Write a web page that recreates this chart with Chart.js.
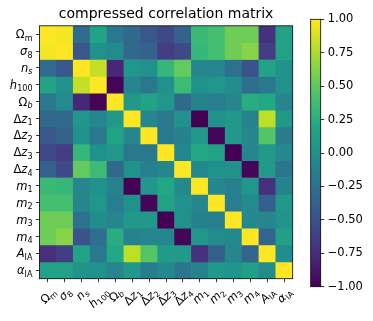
<!DOCTYPE html>
<html>
<head>
<meta charset="utf-8">
<script src="https://cdn.jsdelivr.net/npm/chart.js@4.4.1/dist/chart.umd.min.js"></script>
<style>
    html, body { margin: 0; padding: 0; background: #fff; }
    #wrap { position: relative; width: 373px; height: 321px; }
    #wrap canvas { position: absolute; left: 0; top: 0; }
</style>
</head>
<body>
<div id="wrap">
    <canvas id="matrixChart" width="373" height="321"></canvas>
    <canvas id="cbarChart" width="373" height="321"></canvas>
</div>
<script>
// parameter names, "_" starts a subscript
const paramNames = ['Ω_m', 'σ_8', 'n_s', 'h_100', 'Ω_b', 'Δz_1', 'Δz_2', 'Δz_3', 'Δz_4', 'm_1', 'm_2', 'm_3', 'm_4', 'A_IA', 'α_IA'];
const romanSubs = ['m', 'IA'];

// correlation matrix, one row per parameter
const rowOmegaM = [1, 0.97, -0.3, 0.16, -0.2, -0.32, -0.46, -0.56, -0.38, 0.34, 0.4, 0.56, 0.56, -0.72, 0.14];
const rowSigma8 = [0.97, 1, -0.46, 0.0, -0.05, -0.32, -0.38, -0.64, -0.56, 0.32, 0.4, 0.56, 0.64, -0.64, 0.14];
const rowNs = [-0.3, -0.46, 1, 0.82, -0.78, 0.04, 0.0, 0.32, 0.52, -0.08, -0.08, -0.26, -0.5, 0.16, 0.02];
const rowH100 = [0.16, 0.0, 0.82, 1, -0.98, -0.1, -0.2, 0.0, 0.36, 0.0, 0.04, -0.04, -0.28, -0.2, 0.0];
const rowOmegaB = [-0.2, -0.05, -0.78, -0.98, 1, 0.06, 0.16, 0.04, -0.32, -0.12, -0.16, -0.1, 0.24, 0.2, -0.1];
const rowDz1 = [-0.32, -0.32, 0.04, -0.1, 0.06, 1, -0.08, -0.2, 0.0, -1, 0.0, 0.06, -0.12, 0.8, 0.06];
const rowDz2 = [-0.46, -0.38, 0.0, -0.2, 0.16, -0.08, 1, -0.2, -0.14, 0.06, -0.97, 0.06, -0.08, 0.46, -0.17];
const rowDz3 = [-0.56, -0.64, 0.32, 0.0, 0.04, -0.2, -0.2, 1, -0.08, 0.2, 0.14, -1, -0.08, 0.08, -0.06];
const rowDz4 = [-0.38, -0.56, 0.52, 0.36, -0.32, 0.0, -0.14, -0.08, 1, -0.06, 0.0, 0.0, -0.97, 0.08, -0.22];
const rowM1 = [0.34, 0.32, -0.08, 0.0, -0.12, -1, 0.06, 0.2, -0.06, 1, -0.08, -0.14, 0.04, -0.72, -0.12];
const rowM2 = [0.4, 0.4, -0.08, 0.04, -0.16, 0.0, -0.97, 0.14, 0.0, -0.08, 1, -0.15, -0.05, -0.4, 0.06];
const rowM3 = [0.56, 0.56, -0.26, -0.04, -0.1, 0.06, 0.06, -1, 0.0, -0.14, -0.15, 1, -0.06, -0.1, 0.03];
const rowM4 = [0.56, 0.64, -0.5, -0.28, 0.24, -0.12, -0.08, -0.08, -0.97, 0.04, -0.05, -0.06, 1, -0.35, 0.12];
const rowAIA = [-0.72, -0.64, 0.16, -0.2, 0.2, 0.8, 0.46, 0.08, 0.08, -0.72, -0.4, -0.1, -0.35, 1, -0.04];
const rowAlphaIA = [0.14, 0.14, 0.02, 0.0, -0.1, 0.06, -0.17, -0.06, -0.22, -0.12, 0.06, 0.03, 0.12, -0.04, 1];
const corrRows = [rowOmegaM, rowSigma8, rowNs, rowH100, rowOmegaB, rowDz1, rowDz2, rowDz3, rowDz4, rowM1, rowM2, rowM3, rowM4, rowAIA, rowAlphaIA];

const cbarTicks = [-1, -0.75, -0.5, -0.25, 0, 0.25, 0.5, 0.75, 1];

const FONT = '"DejaVu Sans", sans-serif';
const FS = 11.5;
const TICK = 3.5;
const PAD = 3.5;

const VIRIDIS = ['#440154', '#482475', '#414487', '#355f8d', '#2a788e', '#21918c', '#22a884', '#44bf70', '#7ad151', '#bddf26', '#fde725'];

function hexRgb(h) {
    return [1, 3, 5].map((i) => parseInt(h.slice(i, i + 2), 16));
}

function viridis(v) {
    const t = Math.min(1, Math.max(0, (v + 1) / 2)) * (VIRIDIS.length - 1);
    const i = Math.min(Math.floor(t), VIRIDIS.length - 2);
    const f = t - i;
    const a = hexRgb(VIRIDIS[i]);
    const b = hexRgb(VIRIDIS[i + 1]);
    const c = a.map((x, k) => Math.round(x + (b[k] - x) * f));
    return `rgb(${c[0]},${c[1]},${c[2]})`;
}

// mathtext-like label: italic variables, smaller lowered subscript
function mathParts(name) {
    const [base, sub] = name.split('_');
    const parts = [...base].map((ch) => ({ text: ch, italic: /[A-Za-zα-ω]/.test(ch), sub: false }));
    if (sub) parts.push({ text: sub, italic: !romanSubs.includes(sub) && /[A-Za-z]/.test(sub), sub: true });
    return parts;
}

function partFont(p) {
    return `${p.italic ? 'italic ' : ''}${p.sub ? FS * 0.7 : FS}px ${FONT}`;
}

function mathWidth(ctx, name) {
    return mathParts(name).reduce((w, p) => { ctx.font = partFont(p); return w + ctx.measureText(p.text).width; }, 0);
}

function drawMath(ctx, name, x, baseline) {
    mathParts(name).forEach((p) => {
        ctx.font = partFont(p);
        ctx.fillText(p.text, x, baseline + (p.sub ? 2.5 : 0));
        x += ctx.measureText(p.text).width;
    });
}

const frame = {
    id: 'frame',
    afterDraw(chart) {
        const { ctx, chartArea: a } = chart;
        ctx.save();
        ctx.strokeStyle = '#000';
        ctx.lineWidth = 0.8;
        ctx.strokeRect(a.left, a.top, a.right - a.left, a.bottom - a.top);
        ctx.restore();
    },
};

const mathLabels = {
    id: 'mathLabels',
    afterDraw(chart) {
        const { ctx, chartArea, scales } = chart;
        ctx.save();
        ctx.fillStyle = '#000';
        ctx.textAlign = 'left';
        ctx.textBaseline = 'alphabetic';
        paramNames.forEach((name, i) => {
            const w = mathWidth(ctx, name);
            const y = scales.y.getPixelForValue(i + 0.5);
            drawMath(ctx, name, chartArea.left - TICK - PAD - w, y + 4);

            const x = scales.x.getPixelForValue(i);
            const d = (w + FS) * Math.SQRT1_2;
            ctx.save();
            ctx.translate(x, chartArea.bottom + TICK + PAD + d / 2);
            ctx.rotate(-Math.PI / 4);
            drawMath(ctx, name, -w / 2, 4);
            ctx.restore();
        });
        ctx.restore();
    },
};

const tickGrid = { drawOnChartArea: false, tickLength: TICK, color: '#000', lineWidth: 0.8 };

new Chart(document.getElementById('matrixChart'), {
    type: 'bar',
    data: {
        labels: paramNames,
        datasets: corrRows.map((row, r) => ({
            label: paramNames[r],
            data: row.map(() => [r, r + 1]),
            backgroundColor: row.map(viridis),
            borderWidth: 0,
            barPercentage: 1,
            categoryPercentage: 1,
            grouped: false,
        })),
    },
    options: {
        responsive: false,
        animation: false,
        events: [],
        layout: { padding: { right: 80.3 } },
        plugins: {
            legend: { display: false },
            tooltip: { enabled: false },
            title: {
                display: true,
                text: 'compressed correlation matrix',
                fullSize: false,
                color: '#000',
                font: { family: FONT, size: 14, weight: 'normal' },
                padding: { top: 6, bottom: 3 },
            },
        },
        scales: {
            x: {
                grid: { ...tickGrid, offset: false },
                border: { display: false },
                ticks: { display: false, autoSkip: false },
                afterFit: (s) => { s.height = 42.3; },
            },
            y: {
                type: 'linear',
                reverse: true,
                min: 0,
                max: paramNames.length,
                grid: tickGrid,
                border: { display: false },
                ticks: { display: false },
                afterBuildTicks: (s) => { s.ticks = paramNames.map((_, i) => ({ value: i + 0.5 })); },
                afterFit: (s) => { s.width = 39.5; },
            },
        },
    },
    plugins: [mathLabels, frame],
});

function viridisGradient(c) {
    const { ctx, chartArea, scales } = c.chart;
    if (!chartArea) return null;
    const g = ctx.createLinearGradient(0, scales.y.getPixelForValue(-1), 0, scales.y.getPixelForValue(1));
    VIRIDIS.forEach((col, k) => g.addColorStop(k / (VIRIDIS.length - 1), col));
    return g;
}

new Chart(document.getElementById('cbarChart'), {
    type: 'bar',
    data: {
        labels: ['corr'],
        datasets: [{
            data: [[cbarTicks[0], cbarTicks[cbarTicks.length - 1]]],
            backgroundColor: viridisGradient,
            borderWidth: 0,
            barPercentage: 1,
            categoryPercentage: 1,
        }],
    },
    options: {
        responsive: false,
        animation: false,
        events: [],
        layout: { padding: { left: 310.7, top: 19.3, bottom: 34.3 } },
        plugins: { legend: { display: false }, tooltip: { enabled: false } },
        scales: {
            x: { display: false },
            y: {
                position: 'right',
                min: -1,
                max: 1,
                grid: tickGrid,
                border: { display: false },
                afterBuildTicks: (s) => { s.ticks = cbarTicks.map((v) => ({ value: v })); },
                ticks: {
                    color: '#000',
                    padding: PAD,
                    font: { family: FONT, size: FS },
                    callback: (v) => v.toFixed(2).replace('-', '−'),
                },
                afterFit: (s) => { s.width = 52.3; },
            },
        },
    },
    plugins: [frame],
});
</script>
</body>
</html>
